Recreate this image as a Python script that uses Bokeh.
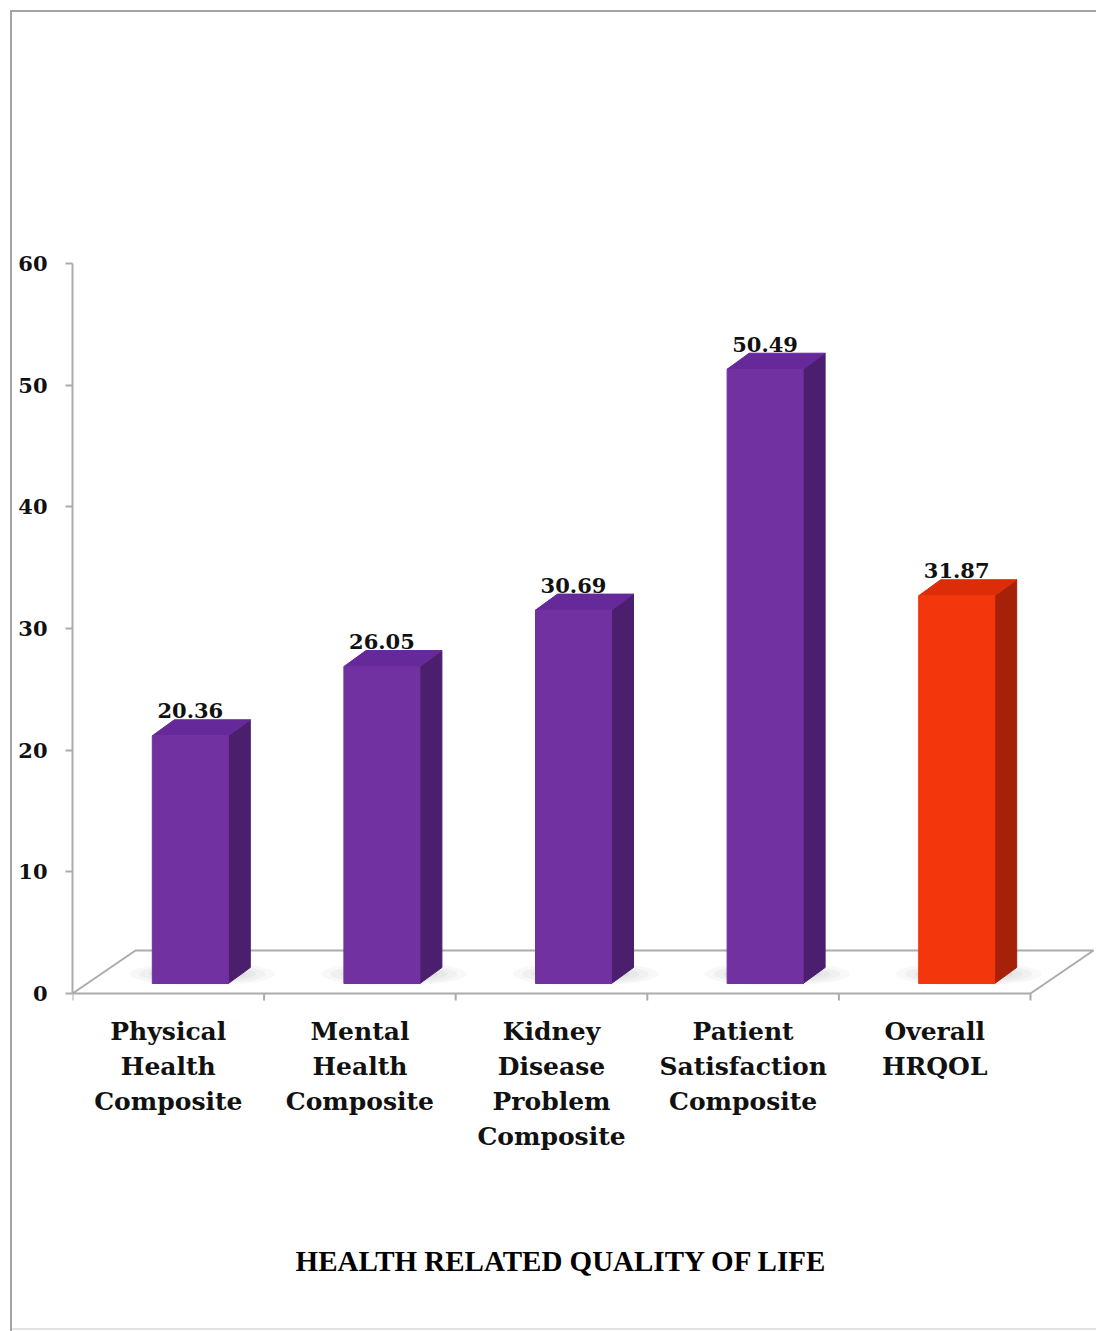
from bokeh.plotting import figure
from bokeh.models import FixedTicker
from bokeh.core.properties import value
from bokeh.embed import file_html
from bokeh.resources import INLINE

# ---- data -------------------------------------------------------------
categories = [
    "Physical\nHealth\nComposite",
    "Mental\nHealth\nComposite",
    "Kidney\nDisease\nProblem\nComposite",
    "Patient\nSatisfaction\nComposite",
    "Overall\nHRQOL",
]
scores = [20.36, 26.05, 30.69, 50.49, 31.87]
is_overall = [False, False, False, False, True]
y_ticks = [0, 10, 20, 30, 40, 50, 60]
chart_title = "HEALTH RELATED QUALITY OF LIFE"

# ---- page geometry (pixels) -------------------------------------------
W, H = 1096, 1331
LEFT = 72            # width of the value-axis panel
X_PX = 191.6         # pixels per category slot
Y_PX = 12.1667       # pixels per score unit
Y0_PX = 993          # screen row of score 0 on the front plane

# oblique "3-D" offsets, converted to data units
FLOOR_DX, FLOOR_DY = 63 / X_PX, 43 / Y_PX
BAR_W = 76 / X_PX
FRONT_DX, FRONT_DY = 22 / X_PX, 10 / Y_PX
SIDE_DX, SIDE_DY = 22 / X_PX, 16 / Y_PX

PURPLE = dict(front="#7131A1", side="#4B1E6E", top="#65299A")
RED = dict(front="#F4360C", side="#A62108", top="#DC2C08")

SERIF_B = value("DejaVu Serif")
GRID_GREY = "#ABABAB"
FRAME_GREY = "#A4A4A4"
SHADOW = "#6F7C7C"

p = figure(
    width=W, height=H,
    x_range=(0, (W - LEFT) / X_PX),
    y_range=(-(H - Y0_PX) / Y_PX, Y0_PX / Y_PX),
    output_backend="svg", toolbar_location=None,
    min_border_left=LEFT, min_border_right=0,
    min_border_top=0, min_border_bottom=0,
)
p.outline_line_color = None
p.xgrid.visible = False
p.ygrid.visible = False
p.xaxis.visible = False
p.border_fill_color = None
p.background_fill_color = None

# thin grey frame around the whole picture (painted behind the canvas)
p.styles = {
    "background": (
        f"linear-gradient({FRAME_GREY},{FRAME_GREY}) 10px 10px / 2px 1321px no-repeat, "
        f"linear-gradient({FRAME_GREY},{FRAME_GREY}) 10px 10px / 1086px 2px no-repeat, "
        "linear-gradient(#E2E2E2,#E2E2E2) 10px 1328px / 1086px 2px no-repeat, "
        "#FFFFFF"
    )
}

# value axis
ya = p.yaxis[0]
ya.ticker = FixedTicker(ticks=y_ticks)
ya.bounds = (0, 60)
ya.axis_line_color = GRID_GREY
ya.axis_line_width = 2
ya.major_tick_line_color = GRID_GREY
ya.major_tick_line_width = 2
ya.major_tick_out = 7
ya.major_tick_in = 0
ya.minor_tick_line_color = None
ya.major_label_standoff = 18
ya.major_label_text_font = "DejaVu Serif"
ya.major_label_text_font_style = "bold"
ya.major_label_text_font_size = "21px"
ya.major_label_text_color = "#111111"

n = len(scores)

# floor
p.patch([0, n, n + FLOOR_DX, FLOOR_DX], [0, 0, FLOOR_DY, FLOOR_DY],
        fill_color="white", line_color=GRID_GREY, line_width=2)
# category tick marks below the front floor edge
p.segment(x0=list(range(n + 1)), y0=[0] * (n + 1),
          x1=list(range(n + 1)), y1=[-7 / Y_PX] * (n + 1),
          line_color=GRID_GREY, line_width=2)

# soft floor shadows under each column
for i in range(n):
    sx = i + 0.5 + FRONT_DX + 12 / X_PX
    for w, h, a in [(0.76, 1.9, 0.05), (0.66, 1.6, 0.06), (0.56, 1.3, 0.07), (0.46, 1.0, 0.08)]:
        p.ellipse(x=sx, y=1.6, width=w, height=h,
                  fill_color=SHADOW, fill_alpha=a, line_color=None)

# columns
for i, v in enumerate(scores):
    col = RED if is_overall[i] else PURPLE
    cx = i + 0.5 + FRONT_DX
    xl, xr = cx - BAR_W / 2, cx + BAR_W / 2
    yb, yt = FRONT_DY, FRONT_DY + v
    # side face
    p.patch([xr, xr + SIDE_DX, xr + SIDE_DX, xr],
            [yb, yb + SIDE_DY, yt + SIDE_DY, yt],
            fill_color=col["side"], line_color=col["side"], line_width=1)
    # top face
    p.patch([xl, xl + SIDE_DX, xr + SIDE_DX, xr],
            [yt, yt + SIDE_DY, yt + SIDE_DY, yt],
            fill_color=col["top"], line_color=col["top"], line_width=1)
    # front face
    p.quad(left=xl, right=xr, bottom=yb, top=yt,
           fill_color=col["front"], line_color=col["front"], line_width=1)
    # value label, sitting on the back edge of the column top
    p.text(x=cx, y=yt + SIDE_DY + 9 / Y_PX, text=[f"{v:.2f}"],
           text_align="center", text_baseline="middle",
           text_font=SERIF_B, text_font_style="bold",
           text_font_size="21px", text_color="#111111")

# category labels, one text per line
for i, cat in enumerate(categories):
    for k, line in enumerate(cat.split("\n")):
        p.text(x=i + 0.5, y=-(38 + 35 * k) / Y_PX, text=[line],
               text_align="center", text_baseline="middle",
               text_font=SERIF_B, text_font_style="bold",
               text_font_size="25px", text_color="#111111")

# caption under the chart
p.text(x=(561 - LEFT) / X_PX, y=-(1260 - Y0_PX) / Y_PX, text=[chart_title],
       text_align="center", text_baseline="middle",
       text_font=value("Liberation Serif"), text_font_style="bold",
       text_font_size="29px", text_color="#000000")

open("out.html", "w").write(file_html(p, INLINE))
